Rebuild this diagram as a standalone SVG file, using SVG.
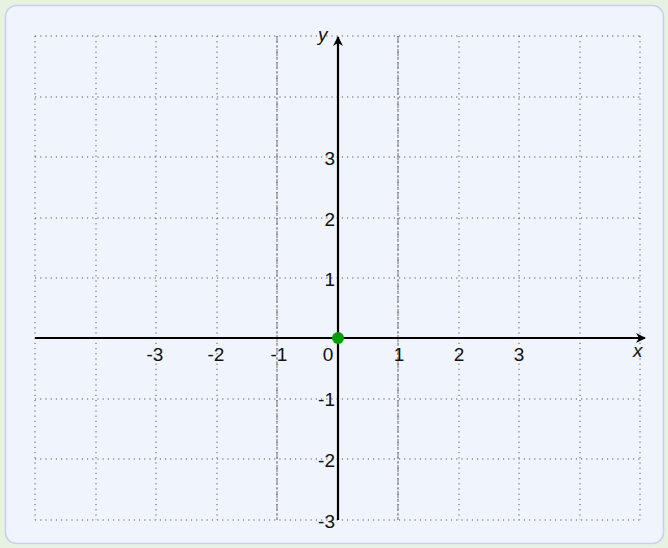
<svg xmlns="http://www.w3.org/2000/svg" width="668" height="548" viewBox="0 0 668 548">
<style>
.grid{stroke:#555;stroke-width:1;stroke-dasharray:1.2 4;fill:none}
.dash{stroke:#777;stroke-width:1;stroke-dasharray:7 2 2 2;fill:none}
.axis{stroke:#000;stroke-width:2.2;fill:none}
.t{font-family:"Liberation Sans",Arial,sans-serif;font-size:19px;fill:#111}
.ti{font-family:"Liberation Sans",Arial,sans-serif;font-size:19px;font-style:italic;fill:#111}
</style>
<defs>
<marker id="ah" viewBox="0 0 10 10" refX="9" refY="5" markerWidth="10" markerHeight="10" markerUnits="userSpaceOnUse" orient="auto">
<path d="M0,0 L10,5 L0,10 L3,5 Z" fill="#000"/>
</marker>
</defs>
<rect x="0" y="0" width="668" height="548" fill="#e6f2e2"/>
<rect x="5.5" y="5.5" width="658" height="538" rx="11" fill="#f0f4fc" stroke="#c9d0ef" stroke-width="1.5"/>
<g id="grid">
<path class="grid" d="M35,36V520M96,36V520M156,36V520M217,36V520M277,36V520M398,36V520M459,36V520M519,36V520M580,36V520M640,36V520"/>
<path class="grid" d="M35,36H640M35,97H640M35,157H640M35,218H640M35,278H640M35,399H640M35,459H640M35,520H640"/>
</g>
<g id="asymptotes">
<path class="dash" d="M277,36V520M398,36V520"/>
</g>
<g id="connectors">
<path class="axis" d="M35,338H645" marker-end="url(#ah)"/>
<path class="axis" d="M338,520V37" marker-end="url(#ah)"/>
</g>
<g id="xlabels" class="t" text-anchor="middle">
<text x="155" y="361">-3</text>
<text x="216" y="361">-2</text>
<text x="279" y="361">-1</text>
<text x="328" y="361">0</text>
<text x="399" y="361">1</text>
<text x="459" y="361">2</text>
<text x="519" y="361">3</text>
</g>
<g id="ylabels" class="t" text-anchor="end">
<text x="335" y="165">3</text>
<text x="335" y="226">2</text>
<text x="335" y="286">1</text>
<text x="335" y="406">-1</text>
<text x="335" y="467">-2</text>
<text x="335" y="528">-3</text>
</g>
<g id="axisnames" class="ti">
<text x="633" y="357">x</text>
<text x="318" y="41">y</text>
</g>
<g id="origin">
<circle cx="338" cy="338" r="6" fill="#00a000"/>
</g>
</svg>
